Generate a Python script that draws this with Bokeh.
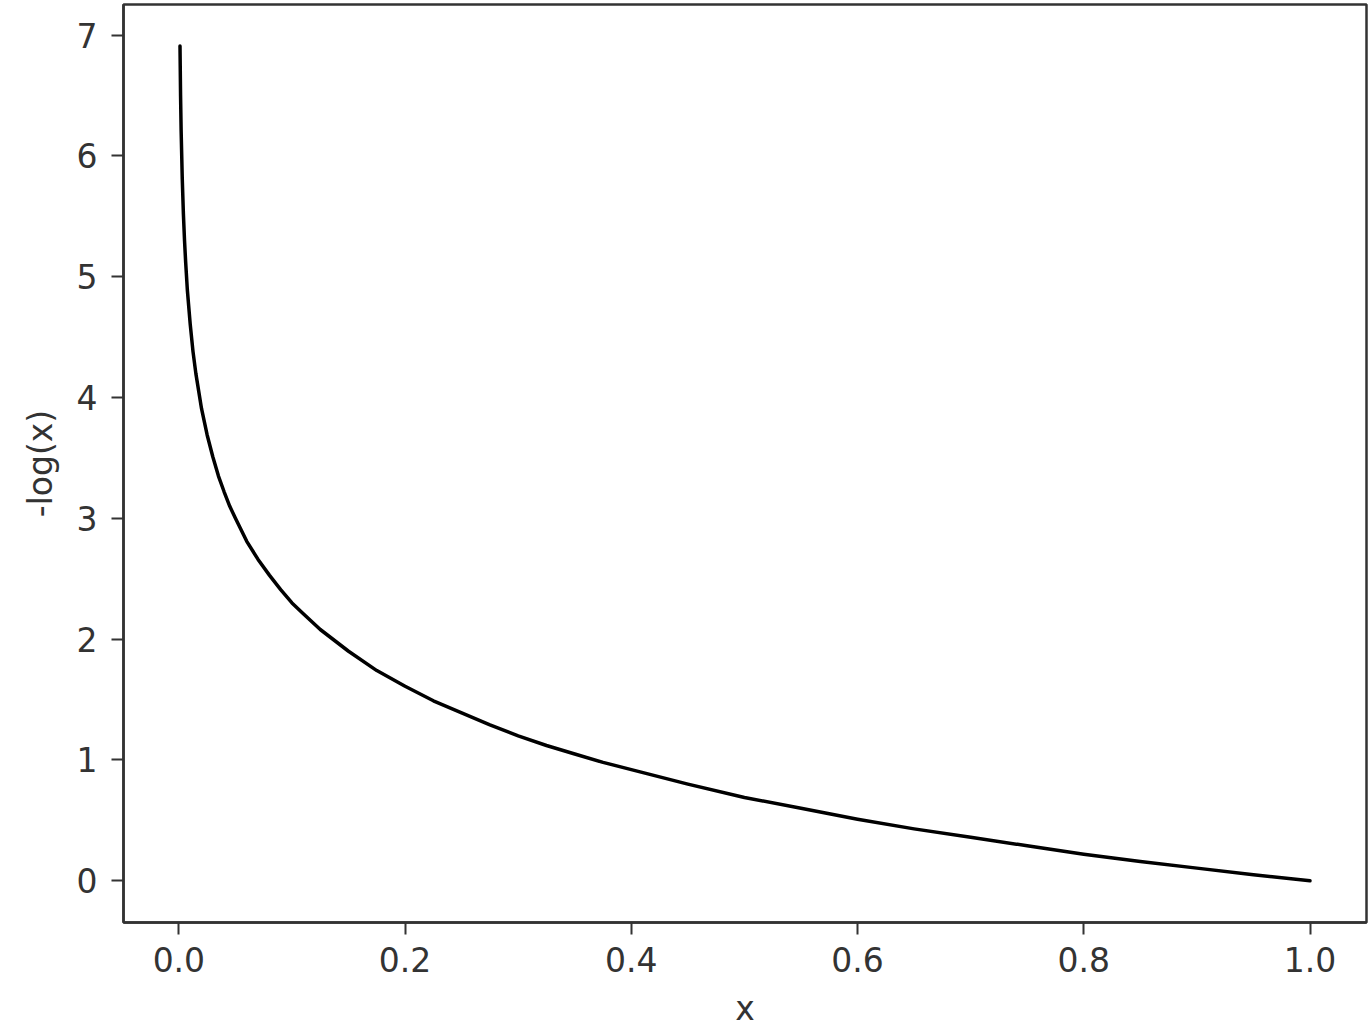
from bokeh.plotting import figure
from bokeh.models import Range1d, FixedTicker, CustomJSTickFormatter
from bokeh.embed import file_html
from bokeh.resources import INLINE

# values
x_vals = [0.001, 0.0015, 0.002, 0.003, 0.004, 0.005, 0.006, 0.0075, 0.01, 0.0125,
          0.015, 0.02, 0.025, 0.03, 0.035, 0.04, 0.045, 0.05, 0.06, 0.07,
          0.08, 0.09, 0.1, 0.11, 0.125, 0.15, 0.175, 0.2, 0.225, 0.25,
          0.275, 0.3, 0.325, 0.35, 0.375, 0.4, 0.45, 0.5, 0.55, 0.6,
          0.65, 0.7, 0.75, 0.8, 0.85, 0.9, 0.95, 1.0]
y_vals = [6.91, 6.50, 6.21, 5.81, 5.52, 5.30, 5.12, 4.89, 4.61, 4.38,
          4.20, 3.91, 3.69, 3.51, 3.35, 3.22, 3.10, 3.00, 2.81, 2.66,
          2.53, 2.41, 2.30, 2.21, 2.08, 1.90, 1.74, 1.61, 1.49, 1.39,
          1.29, 1.20, 1.12, 1.05, 0.98, 0.92, 0.80, 0.69, 0.60, 0.51,
          0.43, 0.36, 0.29, 0.22, 0.16, 0.105, 0.05, 0.0]
x_ticks = [0.0, 0.2, 0.4, 0.6, 0.8, 1.0]
y_ticks = [0, 1, 2, 3, 4, 5, 6, 7]
x_label = "x"
y_label = "-log(x)"

FONT = "DejaVu Sans"
TXT = "#333333"
FS = "33px"

p = figure(width=1368, height=1030, output_backend="svg", toolbar_location=None,
           x_range=Range1d(-0.04895, 1.04995), y_range=Range1d(-0.345, 7.253),
           min_border_left=123, min_border_right=2, min_border_top=4, min_border_bottom=108)

p.line(x_vals, y_vals, line_color="black", line_width=3.5, line_join="round", line_cap="round")

p.grid.visible = False
p.outline_line_color = "#333333"
p.outline_line_width = 2.5
p.outline_line_alpha = 1

p.xaxis.ticker = FixedTicker(ticks=x_ticks)
p.yaxis.ticker = FixedTicker(ticks=y_ticks)
p.xaxis.formatter = CustomJSTickFormatter(code="return tick.toFixed(1);")
p.yaxis.formatter = CustomJSTickFormatter(code="return tick.toFixed(0);")

for ax in (p.xaxis, p.yaxis):
    ax.axis_line_color = "#333333"
    ax.axis_line_width = 2.5
    ax.major_tick_line_color = "#333333"
    ax.major_tick_line_width = 2
    ax.major_tick_out = 12
    ax.major_tick_in = 0
    ax.minor_tick_line_color = None
    ax.major_label_text_font = FONT
    ax.major_label_text_font_size = FS
    ax.major_label_text_color = TXT
    ax.axis_label_text_font = FONT
    ax.axis_label_text_font_size = FS
    ax.axis_label_text_color = TXT
    ax.axis_label_text_font_style = "normal"

p.xaxis.axis_label = x_label
p.yaxis.axis_label = y_label
p.xaxis.major_label_standoff = 12
p.yaxis.major_label_standoff = 14
p.xaxis.axis_label_standoff = 14
p.yaxis.axis_label_standoff = 14

open("out.html", "w").write(file_html(p, INLINE))
